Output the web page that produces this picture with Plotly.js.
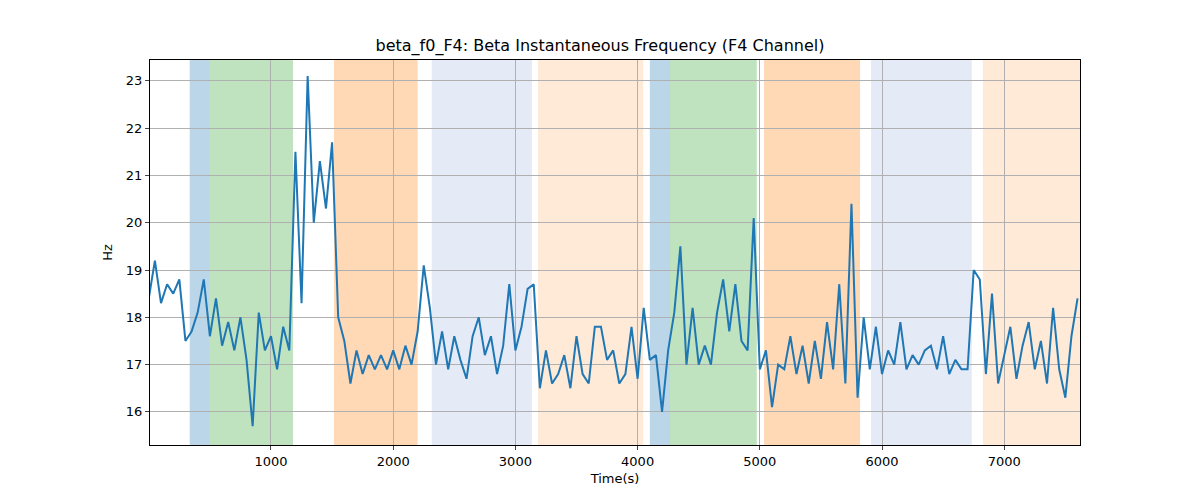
<!DOCTYPE html>
<html>
<head>
<meta charset="utf-8">
<script src="https://cdn.plot.ly/plotly-3.0.1.min.js"></script>
<style>body{margin:0;background:#fff}</style>
</head>
<body>
<div id="chart" style="width:1200px;height:500px"></div>
<script>
// time axis (s) and beta frequency (Hz)
var timeS = [];
for (var t = 0; t <= 7600; t += 50) timeS.push(t);
var freqHz = [18.4,19.2,18.3,18.7,18.5,18.8,17.5,17.7,18.1,18.8,17.6,18.4,17.4,17.9,17.3,18.0,17.1,15.7,18.1,17.3,
  17.6,16.9,17.8,17.3,21.5,18.3,23.1,20.0,21.3,20.3,21.7,18.0,17.5,16.6,17.3,16.8,17.2,16.9,17.2,16.9,
  17.3,16.9,17.4,17.0,17.7,19.1,18.2,17.0,17.7,16.9,17.6,17.1,16.7,17.6,18.0,17.2,17.6,16.8,17.4,18.7,
  17.3,17.8,18.6,18.7,16.5,17.3,16.6,16.8,17.2,16.5,17.6,16.8,16.6,17.8,17.8,17.1,17.3,16.6,16.8,17.8,
  16.7,18.2,17.1,17.2,16.0,17.3,18.1,19.5,17.0,18.2,17.0,17.4,17.0,18.1,18.8,17.7,18.7,17.5,17.3,20.1,
  16.9,17.3,16.1,17.0,16.9,17.6,16.8,17.4,16.6,17.5,16.7,17.9,16.9,18.7,16.6,20.4,16.3,18.0,16.9,17.8,
  16.8,17.3,17.0,17.9,16.9,17.2,17.0,17.3,17.4,16.9,17.6,16.8,17.1,16.9,16.9,19.0,18.8,16.8,18.5,16.6,
  17.2,17.8,16.7,17.4,17.9,16.9,17.5,16.6,18.2,16.9,16.3,17.6,18.4];

// shaded segments
var bandStart = [335, 500, 1515, 2315, 3185, 4100, 4265, 5035, 5910, 6825];
var bandEnd   = [500, 1180, 2200, 3135, 4045, 4265, 4975, 5820, 6735, 7620];
var bandColor = ['rgba(31,119,180,0.3)','rgba(44,160,44,0.3)','rgba(255,127,14,0.3)',
  'rgba(70,110,190,0.14)','rgba(255,127,14,0.16)','rgba(31,119,180,0.3)','rgba(44,160,44,0.3)',
  'rgba(255,127,14,0.3)','rgba(70,110,190,0.14)','rgba(255,127,14,0.16)'];

var shapes = bandStart.map(function (s, i) {
  return { type: 'rect', xref: 'x', yref: 'paper', x0: s, x1: bandEnd[i], y0: 0, y1: 1,
    fillcolor: bandColor[i], line: { width: 0 }, layer: 'below' };
});

var trace = { type: 'scatter', mode: 'lines', x: timeS, y: freqHz,
  line: { color: '#1f77b4', width: 2 } };

var axisStyle = { showgrid: true, gridcolor: '#b0b0b0', gridwidth: 1, zeroline: false,
  showline: true, mirror: true, linecolor: '#000', ticks: 'outside', ticklen: 4,
  tickfont: { size: 13, color: '#000' } };

var layout = {
  font: { family: 'DejaVu Sans', size: 13, color: '#000' },
  title: { text: 'beta_f0_F4: Beta Instantaneous Frequency (F4 Channel)', x: 0.5, y: 0.92, font: { size: 16 } },
  margin: { l: 150, r: 120, t: 60, b: 55 },
  paper_bgcolor: '#fff', plot_bgcolor: 'rgba(0,0,0,0)',
  showlegend: false,
  xaxis: Object.assign({}, axisStyle, { range: [10, 7620], dtick: 1000, title: { text: 'Time(s)', standoff: 6, font: { size: 13 } } }),
  yaxis: Object.assign({}, axisStyle, { range: [15.3, 23.44], dtick: 1, title: { text: 'Hz', standoff: 10, font: { size: 13 } } }),
  shapes: shapes
};

Plotly.newPlot('chart', [trace], layout, { displayModeBar: false });
</script>
</body>
</html>
